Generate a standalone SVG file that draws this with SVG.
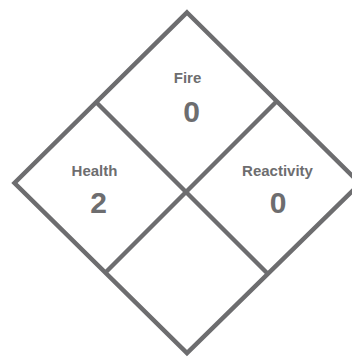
<svg xmlns="http://www.w3.org/2000/svg" width="352" height="357" viewBox="0 0 352 357">
<style>
.ln{fill:none;stroke:#6d6d6f;stroke-width:4.5;stroke-linejoin:miter;stroke-linecap:butt}
.lb{font-family:"Liberation Sans",Arial,sans-serif;font-weight:bold;font-size:15px;fill:#6d6d6f;text-anchor:middle}
.num{font-family:"Liberation Sans",Arial,sans-serif;font-weight:bold;font-size:30px;fill:#6d6d6f;text-anchor:middle}
</style>
<rect width="352" height="357" fill="#ffffff"/>
<g id="diamond">
<polygon class="ln" points="187,12.5 360,183.5 187,353 14.5,183"/>
<line class="ln" x1="96" y1="102" x2="268.5" y2="274.5"/>
<line class="ln" x1="277" y1="101" x2="105" y2="273"/>
</g>
<g id="fire">
<text class="lb" x="187.5" y="83">Fire</text>
<text class="num" x="191.5" y="121.5">0</text>
</g>
<g id="health">
<text class="lb" x="94.5" y="176">Health</text>
<text class="num" x="98.5" y="213">2</text>
</g>
<g id="reactivity">
<text class="lb" x="277.5" y="176">Reactivity</text>
<text class="num" x="278" y="213">0</text>
</g>
<g id="special"></g>
</svg>
